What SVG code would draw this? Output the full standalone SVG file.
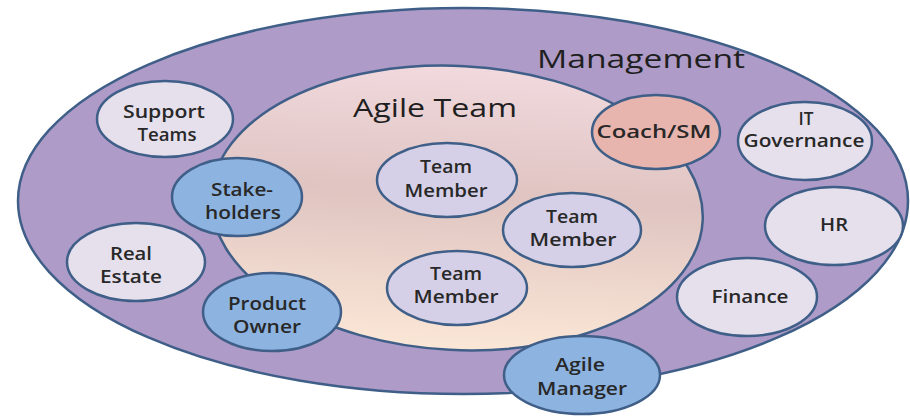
<svg xmlns="http://www.w3.org/2000/svg" width="910" height="416" viewBox="0 0 910 416">
<defs>
<linearGradient id="teamGrad" x1="0" y1="0" x2="0" y2="1">
<stop offset="0" stop-color="#f1d9de"/>
<stop offset="0.45" stop-color="#dfc4c1"/>
<stop offset="1" stop-color="#fbe7d6"/>
</linearGradient>
<style>
.ring{stroke:#3f5f88;stroke-width:2.5}
.node{stroke:#3f5f88;stroke-width:2.5}
.light{fill:#e6e0ed}
.member{fill:#d5d0e7}
.blue{fill:#8db3e0}
.coach{fill:#e8b4ae}
.lbl{font-family:"Open Sans","Liberation Sans",sans-serif;font-weight:600;font-size:18px;fill:#282828;text-anchor:middle}
.title{font-family:"Open Sans","Liberation Sans",sans-serif;font-weight:400;font-size:25px;fill:#1f1f1f}
</style>
</defs>
<rect width="910" height="416" fill="#ffffff"/>
<g id="management">
<ellipse class="ring" cx="463" cy="201" rx="445" ry="193" fill="#ae9bc7"/>
<text class="title" x="537" y="68" textLength="208" lengthAdjust="spacingAndGlyphs">Management</text>
</g>
<g id="agile-team">
<ellipse class="ring" cx="457" cy="208" rx="246" ry="142" transform="rotate(3 457 208)" fill="url(#teamGrad)"/>
<text class="title" x="353" y="117" textLength="164" lengthAdjust="spacingAndGlyphs">Agile Team</text>
</g>
<g id="support-teams">
<ellipse class="node light" cx="165" cy="119" rx="68" ry="38"/>
<text class="lbl" x="164" y="118" textLength="82" lengthAdjust="spacingAndGlyphs">Support</text>
<text class="lbl" x="167" y="141" textLength="59" lengthAdjust="spacingAndGlyphs">Teams</text>
</g>
<g id="real-estate">
<ellipse class="node light" cx="136" cy="262" rx="69" ry="39"/>
<text class="lbl" x="131" y="260" textLength="42" lengthAdjust="spacingAndGlyphs">Real</text>
<text class="lbl" x="131" y="283" textLength="62" lengthAdjust="spacingAndGlyphs">Estate</text>
</g>
<g id="stakeholders">
<ellipse class="node blue" cx="237" cy="197" rx="65" ry="39"/>
<text class="lbl" x="242" y="196" textLength="62" lengthAdjust="spacingAndGlyphs">Stake-</text>
<text class="lbl" x="243" y="219" textLength="76" lengthAdjust="spacingAndGlyphs">holders</text>
</g>
<g id="product-owner">
<ellipse class="node blue" cx="272" cy="312" rx="69" ry="39"/>
<text class="lbl" x="267" y="310" textLength="78" lengthAdjust="spacingAndGlyphs">Product</text>
<text class="lbl" x="267" y="333" textLength="68" lengthAdjust="spacingAndGlyphs">Owner</text>
</g>
<g id="team-member-1">
<ellipse class="node member" cx="447" cy="180" rx="70" ry="37"/>
<text class="lbl" x="446" y="173" textLength="52" lengthAdjust="spacingAndGlyphs">Team</text>
<text class="lbl" x="446" y="197" textLength="83" lengthAdjust="spacingAndGlyphs">Member</text>
</g>
<g id="team-member-2">
<ellipse class="node member" cx="572" cy="230" rx="69" ry="37"/>
<text class="lbl" x="572" y="223" textLength="52" lengthAdjust="spacingAndGlyphs">Team</text>
<text class="lbl" x="573" y="246" textLength="87" lengthAdjust="spacingAndGlyphs">Member</text>
</g>
<g id="team-member-3">
<ellipse class="node member" cx="457" cy="288" rx="70" ry="37"/>
<text class="lbl" x="456" y="280" textLength="52" lengthAdjust="spacingAndGlyphs">Team</text>
<text class="lbl" x="456" y="303" textLength="85" lengthAdjust="spacingAndGlyphs">Member</text>
</g>
<g id="coach-sm">
<ellipse class="node coach" cx="656" cy="132" rx="64" ry="37"/>
<text class="lbl" x="654" y="138" textLength="115" lengthAdjust="spacingAndGlyphs">Coach/SM</text>
</g>
<g id="it-governance">
<ellipse class="node light" cx="805" cy="141" rx="67" ry="39"/>
<text class="lbl" x="806" y="125" textLength="15" lengthAdjust="spacingAndGlyphs">IT</text>
<text class="lbl" x="804" y="147" textLength="121" lengthAdjust="spacingAndGlyphs">Governance</text>
</g>
<g id="hr">
<ellipse class="node light" cx="834" cy="226" rx="69" ry="39"/>
<text class="lbl" x="834" y="231" textLength="28" lengthAdjust="spacingAndGlyphs">HR</text>
</g>
<g id="finance">
<ellipse class="node light" cx="747" cy="297" rx="70" ry="39"/>
<text class="lbl" x="750" y="303" textLength="77" lengthAdjust="spacingAndGlyphs">Finance</text>
</g>
<g id="agile-manager">
<ellipse class="node blue" cx="582" cy="375" rx="78" ry="39"/>
<text class="lbl" x="580" y="371" textLength="50" lengthAdjust="spacingAndGlyphs">Agile</text>
<text class="lbl" x="582" y="395" textLength="90" lengthAdjust="spacingAndGlyphs">Manager</text>
</g>
</svg>
